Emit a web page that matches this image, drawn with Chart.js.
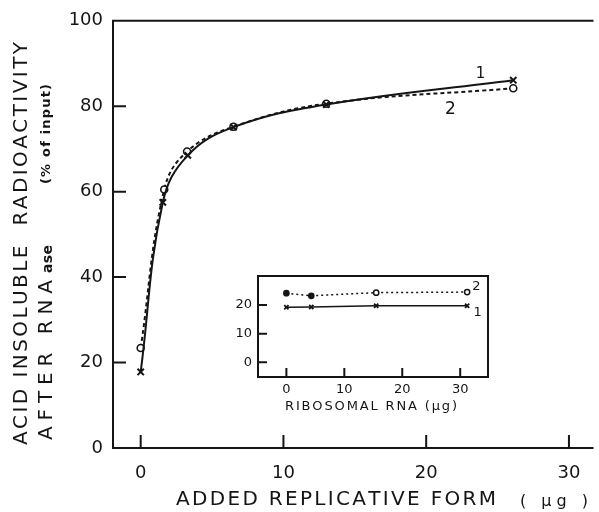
<!DOCTYPE html>
<html lang="en">
<head>
<meta charset="UTF-8">
<title>Acid insoluble radioactivity vs added RF</title>
<script src="https://cdn.jsdelivr.net/npm/chart.js"></script>
<style>
  body { margin: 0; background: #fff; }
  #wrap { position: relative; width: 599px; height: 512px; }
  #main { position: absolute; left: 0; top: 0; }
  #inset { position: absolute; left: 200px; top: 262px; }
</style>
</head>
<body>
<div id="wrap">
  <canvas id="main" width="599" height="512"></canvas>
  <canvas id="inset" width="300" height="158"></canvas>
</div>
<script>
// main panel: added replicative form (ug) -> % acid insoluble after RNAase
const rfX1 = [0, 1.55, 3.3, 6.5, 13.0, 26.1];
const curve1 = [17.8, 57.5, 68.5, 75.1, 80.4, 86.1];
const rfX2 = [0, 1.65, 3.25, 6.5, 13.0, 26.1];
const curve2 = [23.4, 60.5, 69.4, 75.2, 80.6, 84.2];
const mainXTicks = [0, 10, 20, 30];
const mainYTicks = [0, 20, 40, 60, 80, 100];

// inset: ribosomal RNA (ug)
const riboX = [0, 4.3, 15.5, 31.2];
const inset1 = [19.2, 19.3, 19.7, 19.7];
const inset2 = [24.1, 23.2, 24.3, 24.5];
const insetXTicks = [0, 10, 20, 30];
const insetYTicks = [0, 10, 20];

const INK = '#151515';
const FONT = '"DejaVu Sans", "Liberation Sans", sans-serif';

function pts(xs, ys) {
    return xs.map((x, i) => ({ x: x, y: ys[i] }));
}

// draw a string letter by letter so it fills a given length
function spacedText(ctx, str, x, y, target) {
    const chars = [...str];
    const widths = chars.map(c => ctx.measureText(c).width);
    const total = widths.reduce((s, w) => s + w, 0);
    const gap = chars.length > 1 ? (target - total) / (chars.length - 1) : 0;
    let cx = x;
    chars.forEach((c, i) => { ctx.fillText(c, cx, y); cx += widths[i] + gap; });
    return cx;
}

// axis frame with inward tick marks
const framePlugin = {
    id: 'frame',
    beforeDatasetsDraw(chart, args, opts) {
        const { ctx, chartArea: a, scales } = chart;
        ctx.save();
        ctx.strokeStyle = INK;
        ctx.lineWidth = opts.width;
        ctx.lineCap = 'square';
        ctx.beginPath();
        ctx.moveTo(a.left, a.top); ctx.lineTo(a.left, a.bottom);
        ctx.moveTo(a.left, a.bottom); ctx.lineTo(a.right, a.bottom);
        ctx.moveTo(a.left, a.top); ctx.lineTo(a.right, a.top);
        if (opts.right) { ctx.moveTo(a.right, a.top); ctx.lineTo(a.right, a.bottom); }
        scales.x.ticks.forEach(t => {
            const px = scales.x.getPixelForValue(t.value);
            ctx.moveTo(px, a.bottom); ctx.lineTo(px, a.bottom - opts.tick);
        });
        scales.y.ticks.forEach(t => {
            const py = scales.y.getPixelForValue(t.value);
            ctx.moveTo(a.left, py); ctx.lineTo(a.left + opts.tick, py);
        });
        ctx.stroke();
        ctx.restore();
    },
    afterDraw(chart, args, opts) {
        const { ctx, scales } = chart;
        ctx.save();
        ctx.fillStyle = INK;
        ctx.textAlign = 'center';
        ctx.textBaseline = 'middle';
        (opts.labels || []).forEach(l => {
            ctx.font = l.size + 'px ' + FONT;
            ctx.fillText(l.text, scales.x.getPixelForValue(l.x), scales.y.getPixelForValue(l.y));
        });
        if (opts.titles) opts.titles(ctx, chart);
        ctx.restore();
    }
};

function mainTitles(ctx, chart) {
    ctx.textAlign = 'left';
    ctx.textBaseline = 'alphabetic';
    // y title, rotated
    ctx.save();
    ctx.translate(27, 445);
    ctx.rotate(-Math.PI / 2);
    ctx.font = '20px ' + FONT;
    spacedText(ctx, 'ACID INSOLUBLE  RADIOACTIVITY', 0, 0, 403);
    ctx.restore();

    ctx.save();
    ctx.translate(52, 440);
    ctx.rotate(-Math.PI / 2);
    ctx.font = '20px ' + FONT;
    let end = spacedText(ctx, 'AFTER RNA', 0, 0, 160);
    ctx.font = 'bold 14px ' + FONT;
    spacedText(ctx, 'ase', end + 1, 0, 28);
    ctx.restore();

    ctx.save();
    ctx.translate(50, 184);
    ctx.rotate(-Math.PI / 2);
    ctx.font = 'bold 13px ' + FONT;
    spacedText(ctx, '(% of input)', 0, 0, 100);
    ctx.restore();

    // x title
    ctx.font = '20px ' + FONT;
    spacedText(ctx, 'ADDED REPLICATIVE FORM', 176, 505, 320);
    ctx.font = '16px ' + FONT;
    spacedText(ctx, '( \u03bcg )', 520, 506, 68);
}

function insetTitles(ctx, chart) {
    ctx.textAlign = 'left';
    ctx.textBaseline = 'alphabetic';
    ctx.font = '13px ' + FONT;
    spacedText(ctx, 'RIBOSOMAL RNA (\u03bcg)', 85, 148, 172);
}

const mainChart = new Chart(document.getElementById('main'), {
    type: 'scatter',
    data: {
        datasets: [
            {
                label: '1',
                data: pts(rfX1, curve1),
                showLine: true,
                tension: 0.4,
                borderColor: INK,
                borderWidth: 2,
                pointStyle: 'crossRot',
                pointRadius: 4.5,
                pointBorderWidth: 2,
                pointBorderColor: INK
            },
            {
                label: '2',
                data: pts(rfX2, curve2),
                showLine: true,
                tension: 0.4,
                borderColor: INK,
                borderWidth: 2,
                borderDash: [4, 3],
                pointStyle: 'circle',
                pointRadius: 3.5,
                pointBorderWidth: 1.6,
                pointBorderColor: INK,
                pointBackgroundColor: '#fff'
            }
        ]
    },
    options: {
        responsive: false,
        devicePixelRatio: 1,
        animation: false,
        layout: { padding: { top: 20, right: 0, bottom: 0, left: 0 } },
        scales: {
            x: {
                type: 'linear',
                min: -1.94,
                max: 31.65,
                afterBuildTicks: s => { s.ticks = mainXTicks.map(v => ({ value: v })); },
                afterFit: s => { s.height = 64; },
                grid: { display: false, drawTicks: false },
                border: { display: false },
                ticks: { color: INK, font: { family: FONT, size: 18 }, padding: 15, maxRotation: 0 }
            },
            y: {
                type: 'linear',
                min: 0,
                max: 100,
                afterBuildTicks: s => { s.ticks = mainYTicks.map(v => ({ value: v })); },
                afterFit: s => { s.width = 113; },
                grid: { display: false, drawTicks: false },
                border: { display: false },
                ticks: { color: INK, font: { family: FONT, size: 18 }, padding: 10 }
            }
        },
        plugins: {
            legend: { display: false },
            tooltip: { enabled: false },
            frame: {
                width: 2,
                tick: 12,
                right: false,
                labels: [
                    { text: '1', x: 23.8, y: 87.6, size: 15 },
                    { text: '2', x: 21.7, y: 79.2, size: 17 }
                ],
                titles: mainTitles
            }
        }
    },
    plugins: [framePlugin]
});

const insetChart = new Chart(document.getElementById('inset'), {
    type: 'scatter',
    data: {
        datasets: [
            {
                label: '1',
                data: pts(riboX, inset1),
                showLine: true,
                borderColor: INK,
                borderWidth: 1.5,
                pointStyle: 'crossRot',
                pointRadius: 3,
                pointBorderWidth: 1.8,
                pointBorderColor: INK
            },
            {
                label: '2',
                data: pts(riboX, inset2),
                showLine: true,
                borderColor: INK,
                borderWidth: 1.5,
                borderDash: [2, 3],
                pointStyle: 'circle',
                pointRadius: 2.6,
                pointBorderWidth: 1.5,
                pointBorderColor: INK,
                pointBackgroundColor: [INK, INK, '#fff', '#fff']
            }
        ]
    },
    options: {
        responsive: false,
        devicePixelRatio: 1,
        animation: false,
        layout: { padding: { top: 14, right: 12, bottom: 0, left: 0 } },
        scales: {
            x: {
                type: 'linear',
                min: -4.9,
                max: 34.8,
                afterBuildTicks: s => { s.ticks = insetXTicks.map(v => ({ value: v })); },
                afterFit: s => { s.height = 43; },
                grid: { display: false, drawTicks: false },
                border: { display: false },
                ticks: { color: INK, font: { family: FONT, size: 13 }, padding: 5, maxRotation: 0 }
            },
            y: {
                type: 'linear',
                min: -5.1,
                max: 30.1,
                afterBuildTicks: s => { s.ticks = insetYTicks.map(v => ({ value: v })); },
                afterFit: s => { s.width = 58; },
                grid: { display: false, drawTicks: false },
                border: { display: false },
                ticks: { color: INK, font: { family: FONT, size: 13 }, padding: 6 }
            }
        },
        plugins: {
            legend: { display: false },
            tooltip: { enabled: false },
            frame: {
                width: 2,
                tick: 8,
                right: true,
                labels: [
                    { text: '2', x: 32.8, y: 26.4, size: 13 },
                    { text: '1', x: 33.0, y: 17.2, size: 13 }
                ],
                titles: insetTitles
            }
        }
    },
    plugins: [framePlugin]
});
</script>
</body>
</html>
